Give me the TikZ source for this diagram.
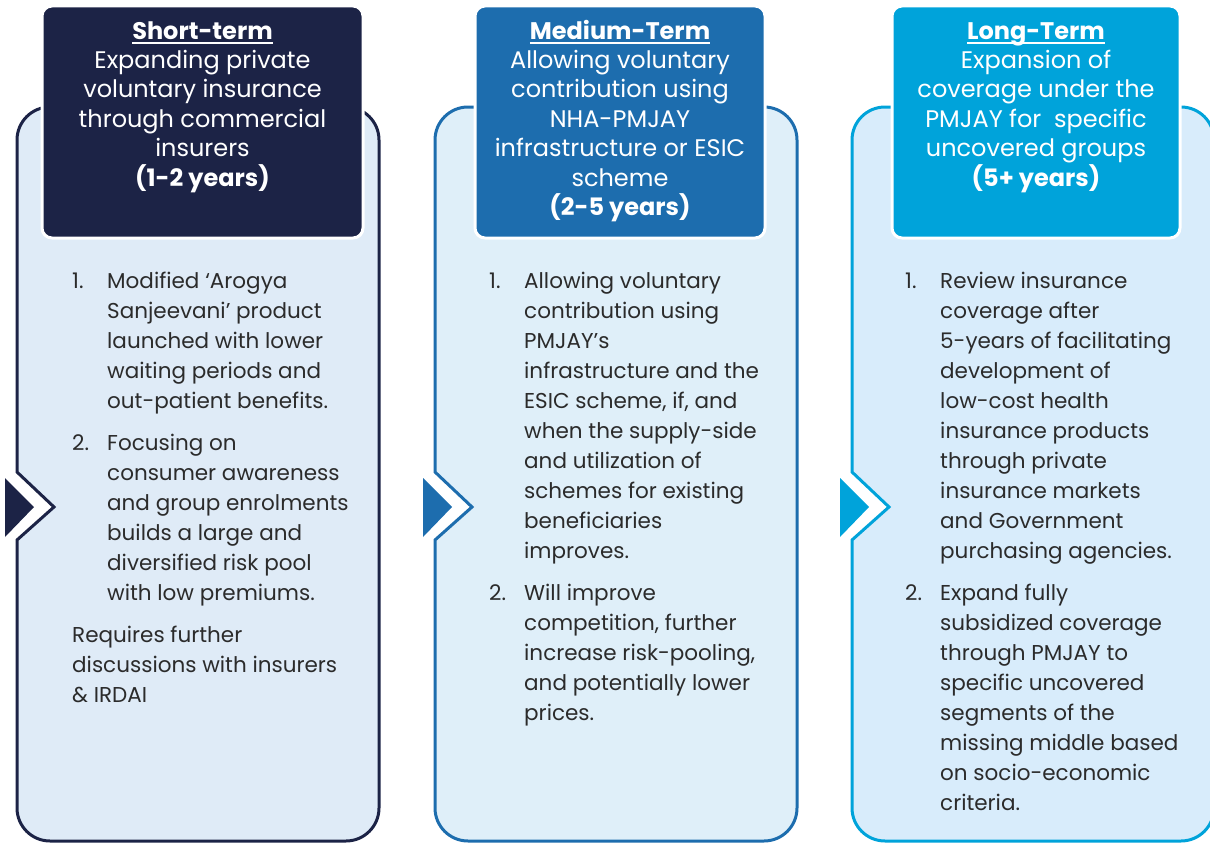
\documentclass[tikz,border=0pt]{standalone}
\usepackage{fontspec}
\setmainfont{Poppins}
\definecolor{cA}{HTML}{1C2346}
\definecolor{cB}{HTML}{1D6DAE}
\definecolor{cC}{HTML}{00A3DA}
\definecolor{fA}{HTML}{DFEBF7}
\definecolor{fB}{HTML}{DFEFF9}
\definecolor{fC}{HTML}{D8ECFB}
\definecolor{txt}{HTML}{2B2B2B}
\newcommand\hdul[1]{\setbox0\hbox{#1}\rlap{\rule[-4.5pt]{\wd0}{1.6pt}}\box0}
\tikzset{
  panel/.style={line width=3pt, line join=miter},
  hdr/.style={rectangle, rounded corners=10pt, draw=white, line width=3pt, inner sep=0pt},
  htext/.style={anchor=base, align=center, text=white, inner sep=0pt, font=\fontsize{24}{29.4}\selectfont},
  num/.style={anchor=base west, inner sep=0pt, text=txt, font=\fontsize{21.5}{30}\selectfont},
  body/.style={anchor=base west, align=left, inner sep=0pt, text=txt, font=\fontsize{21.5}{30}\selectfont},
}
\begin{document}
\begin{tikzpicture}[x=1pt,y=-1pt]
\useasboundingbox (0,0) rectangle (1210,843);
\clip (0,0) rectangle (1210,843);
% panels
\draw[panel, draw=cA, fill=fA] (17,300) [rounded corners=33pt] -- (17,107) -- (379,107) -- (379,841) -- (17,841) -- (17,700) [sharp corners] -- (17,540) -- (54,507) -- (17,472) -- cycle;
\draw[panel, draw=cB, fill=fB] (435,300) [rounded corners=33pt] -- (435,107) -- (797,107) -- (797,841) -- (435,841) -- (435,700) [sharp corners] -- (435,540) -- (472,507) -- (435,472) -- cycle;
\draw[panel, draw=cC, fill=fC] (852,300) [rounded corners=33pt] -- (852,107) -- (1214,107) -- (1214,841) -- (852,841) -- (852,700) [sharp corners] -- (852,540) -- (889,507) -- (852,472) -- cycle;
% chevron triangles
\fill[cA] (5,478) -- (34,507) -- (5,537) -- cycle;
\fill[cB] (423,478) -- (452,507) -- (423,537) -- cycle;
\fill[cC] (840,478) -- (869,507) -- (840,537) -- cycle;
% headers
\node[hdr, fill=cA, minimum width=321pt, minimum height=232pt] (h1) at (202.5,122) {};
\node[hdr, fill=cB, minimum width=290pt, minimum height=232pt] (h2) at (620,122) {};
\node[hdr, fill=cC, minimum width=288pt, minimum height=232pt] (h3) at (1036,122) {};
\node[htext] (t1) at (202.5,186) {\hdul{\textbf{Short-term}}\\Expanding private\\voluntary insurance\\through commercial\\insurers\\\textbf{(1-2 years)}};
\node[htext] (t2) at (620,215.4) {\hdul{\textbf{Medium-Term}}\\Allowing voluntary\\contribution using\\NHA-PMJAY\\infrastructure or ESIC\\scheme\\\textbf{(2-5 years)}};
\node[htext] (t3) at (1036,186) {\hdul{\textbf{Long-Term}}\\Expansion of\\coverage under the\\PMJAY for~ specific\\uncovered groups\\\textbf{(5+ years)}};
% column 1 body
\node[num] (n11) at (72,288) {1.};
\node[body] (b11) at (107,408) {Modified ‘Arogya\\Sanjeevani’ product\\launched with lower\\waiting periods and\\out-patient benefits.};
\node[num] (n12) at (72,450) {2.};
\node[body] (b12) at (107,600) {Focusing on\\consumer awareness\\and group enrolments\\builds a large and\\diversified risk pool\\with low premiums.};
\node[body] (r1) at (72,702) {Requires further\\discussions with insurers\\\& IRDAI};
% column 2 body
\node[num] (n21) at (489,288) {1.};
\node[body] (b21) at (524,558) {Allowing voluntary\\contribution using\\PMJAY’s\\infrastructure and the\\ESIC scheme, if, and\\when the supply-side\\and utilization of\\schemes for existing\\beneficiaries\\improves.};
\node[num] (n22) at (489,600) {2.};
\node[body] (b22) at (524,720) {Will improve\\competition, further\\increase risk-pooling,\\and potentially lower\\prices.};
% column 3 body
\node[num] (n31) at (905,288) {1.};
\node[body] (b31) at (940,558) {Review insurance\\coverage after\\5-years of facilitating\\development of\\low-cost health\\insurance products\\through private\\insurance markets\\and Government\\purchasing agencies.};
\node[num] (n32) at (905,600) {2.};
\node[body] (b32) at (940,810) {Expand fully\\subsidized coverage\\through PMJAY to\\specific uncovered\\segments of the\\missing middle based\\on socio-economic\\criteria.};
\end{tikzpicture}
\end{document}
